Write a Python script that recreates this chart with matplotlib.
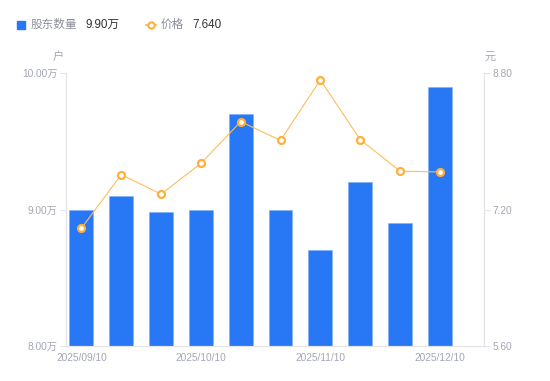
import matplotlib
matplotlib.use("Agg")
import matplotlib.pyplot as plt
from matplotlib.lines import Line2D
from matplotlib.patches import Rectangle

plt.rcParams['font.family'] = ['Liberation Sans', 'Noto Sans CJK SC', 'DejaVu Sans']

# ---- data ----
dates = ['2025/09/10', '2025/09/20', '2025/09/30', '2025/10/10', '2025/10/20',
         '2025/10/31', '2025/11/10', '2025/11/20', '2025/11/30', '2025/12/10']
holders = [9.00, 9.10, 8.98, 9.00, 9.70, 9.00, 8.70, 9.20, 8.90, 9.90]   # 万户
price = [6.98, 7.61, 7.38, 7.74, 8.23, 8.01, 8.72, 8.02, 7.65, 7.64]      # 元
left_ticks = [8.0, 9.0, 10.0]
right_ticks = [5.6, 7.2, 8.8]
shown_ticks = [0, 3, 6, 9]

BLUE = '#2878F5'
ORANGE = '#FFB03A'
LINE_OR = '#FCBE5C'
GRID = '#E3E4E8'
TICK = '#A3A6B4'

W, H = 550, 381
fig = plt.figure(figsize=(W / 100, H / 100), dpi=100)
ax = fig.add_axes([65.5 / W, 1 - 346 / H, (484 - 65.5) / W, (346 - 73) / H])
ax2 = ax.twinx()

x = list(range(len(dates)))
ax.bar(x, holders, width=0.6, color=BLUE, edgecolor='#7EAEF8', linewidth=0.4, zorder=2)
ax.set_ylim(left_ticks[0], left_ticks[-1])
ax.set_xlim(-0.40, 10.11)

ax2.plot(x, price, color=LINE_OR, lw=0.8, marker='o', markersize=5,
         markerfacecolor='white', markeredgecolor=ORANGE, markeredgewidth=1.6, zorder=3)
ax2.set_ylim(right_ticks[0], right_ticks[-1])

ax.set_yticks(left_ticks)
ax.set_yticklabels([f'{v:.2f}万' for v in left_ticks])
ax2.set_yticks(right_ticks)
ax2.set_yticklabels([f'{v:.2f}' for v in right_ticks])
ax.set_xticks(shown_ticks)
ax.set_xticklabels([dates[i] for i in shown_ticks])

for a in (ax, ax2):
    for s in a.spines.values():
        s.set_color(GRID)
        s.set_linewidth(0.8)
    a.spines['top'].set_visible(False)
    a.tick_params(colors=GRID, labelcolor=TICK, labelsize=7.3, length=4, width=0.8, pad=2)
ax.tick_params(axis='x', length=0, pad=5)

fig.text(58 / W, 1 - 57 / H, '户', color=TICK, fontsize=8, ha='center', va='center')
fig.text(490 / W, 1 - 57 / H, '元', color=TICK, fontsize=8, ha='center', va='center')

# legend
ly = 1 - 24.5 / H
fig.add_artist(Rectangle((16.7 / W, 1 - 29 / H), 8.6 / W, 8.4 / H, color=BLUE,
                         transform=fig.transFigure))
fig.text(31 / W, ly, '股东数量', color='#8C8F9A', fontsize=8.4, va='center')
fig.text(85 / W, ly, '9.90万', color='#333333', fontsize=8.4, va='center')
fig.add_artist(Line2D([146 / W, 156 / W], [ly, ly], color=ORANGE, lw=1.2,
                      transform=fig.transFigure))
fig.add_artist(Line2D([151 / W], [ly], marker='o', markersize=4.5, markerfacecolor='white',
                      markeredgecolor=ORANGE, markeredgewidth=1.5, transform=fig.transFigure))
fig.text(161 / W, ly, '价格', color='#8C8F9A', fontsize=8.4, va='center')
fig.text(192 / W, ly, '7.640', color='#333333', fontsize=8.4, va='center')

fig.savefig('out.png', dpi=100)
